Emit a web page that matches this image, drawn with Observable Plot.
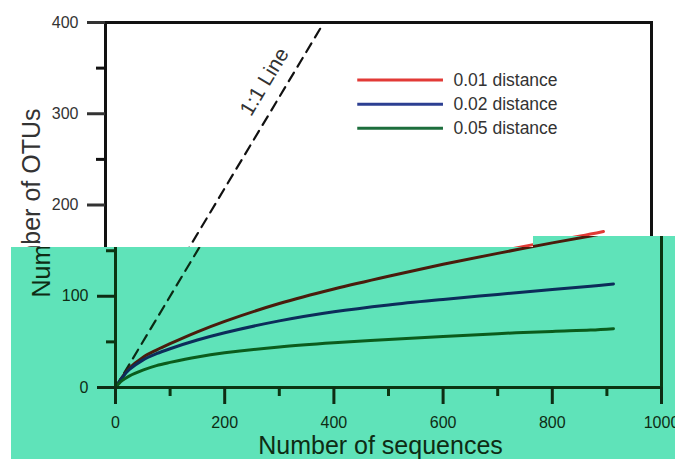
<!DOCTYPE html>
<html>
<head>
<meta charset="utf-8">
<script src="https://cdn.jsdelivr.net/npm/d3@7"></script>
<script src="https://cdn.jsdelivr.net/npm/@observablehq/plot@0.6"></script>
<style>
  html, body { margin: 0; padding: 0; background: #fff; }
  #wrap { position: relative; width: 675px; height: 459px; overflow: hidden; background: #fff; }
  #a, #b { position: absolute; left: 0; top: 0; width: 675px; height: 459px; }
  #b { background: #5fe3b9; clip-path: polygon(11px 247px, 533px 247px, 533px 236px, 675px 236px, 675px 459px, 11px 459px); }
</style>
</head>
<body>
<div id="wrap"><div id="a"></div><div id="b"></div></div>
<script>
// ---- data ----
const sequences = [0, 5, 12, 25, 50, 75, 100, 150, 200, 300, 400, 500, 600, 700, 800, 870, 912];
const otus001   = [0, 4.5, 11, 21, 33, 41, 48, 61, 72.5, 92, 108, 122, 135, 147, 158.5, 166, 171];
const otus002   = [0, 4.5, 10.5, 19.5, 30, 37, 42.5, 52, 60, 73, 83, 90.5, 96.5, 102, 107.5, 111, 113.5];
const otus005   = [0, 3.5, 7.5, 12.5, 19, 24, 27.5, 33.5, 38, 44.5, 49, 52.5, 56, 59, 61.5, 63, 64.5];
const seriesNames = ["0.01 distance", "0.02 distance", "0.05 distance"];
const oneToOne = [0, 400];
const xMajorTicks = [0, 200, 400, 600, 800, 1000];
const xMinorTicks = [100, 300, 500, 700, 900];
const yMajorTicks = [0, 100, 200, 300, 400];
const yMinorTicks = [50, 150, 250, 350];
const xTitle = "Number of sequences";
const yTitle = "Number of OTUs";
const lineLabel = "1:1 Line";

const seriesValues = [otus001, otus002, otus005];
const rows = seriesNames.flatMap((name, k) =>
  sequences.map((s, i) => ({series: name, seq: s, otus: seriesValues[k][i]})));
const diag = oneToOne.map(v => ({a: v, b: v}));

function makePlot(cfg) {
  const top = cfg.part === "top";
  const marks = [
    Plot.line(diag, {x: "a", y: "b", stroke: cfg.dash, strokeWidth: 2.2, strokeDasharray: "10,7"}),
    Plot.line(rows, {x: "seq", y: "otus", z: "series", stroke: "series", strokeWidth: 3, curve: "catmull-rom"}),
    Plot.frame({stroke: cfg.ink, strokeWidth: 3}),
    Plot.axisX(xMajorTicks, {tickSize: 17, tickPadding: 12, strokeWidth: 3, label: null, fontSize: 16, color: cfg.text,
      tickFormat: top ? () => "" : d => String(d)}),
    Plot.axisX(xMinorTicks, {tickSize: 9, strokeWidth: 3, label: null, tickFormat: () => ""}),
    Plot.axisY(yMajorTicks, {tickSize: 18, tickPadding: 9, strokeWidth: 3, label: null, fontSize: 16, color: cfg.text,
      tickFormat: d => (top ? d >= 200 : d < 200) ? String(d) : ""}),
    Plot.axisY(yMinorTicks, {tickSize: 9, strokeWidth: 3, label: null, tickFormat: () => ""}),
    Plot.text([yTitle], {frameAnchor: "left", dx: cfg.yTitleX - cfg.marginLeft, dy: -2, rotate: -90,
      textAnchor: "middle", lineAnchor: "middle", fontSize: 25, fill: cfg.text})
  ];
  if (top) {
    marks.push(
      Plot.text([lineLabel], {x: 335, y: 335, dx: -24, rotate: -59, fontSize: 21, fill: cfg.text}),
      Plot.ruleY(seriesNames, {y: (d, i) => 337 - i * 26.5, x1: 462, x2: 619, stroke: d => d, strokeWidth: 3}),
      Plot.text(seriesNames, {x: 619, y: (d, i) => 337 - i * 26.5, text: d => d, dx: 10, textAnchor: "start", fontSize: 17.5, fill: cfg.text})
    );
  } else {
    marks.push(
      Plot.text([xTitle], {frameAnchor: "bottom", dx: -8, dy: 58, textAnchor: "middle", lineAnchor: "middle", fontSize: 25, fill: cfg.text})
    );
  }
  return Plot.plot({
    width: 675,
    height: 459,
    marginLeft: cfg.marginLeft,
    marginRight: 675 - cfg.marginLeft - 546,
    marginTop: 22,
    marginBottom: 72,
    x: {domain: [0, 1000]},
    y: {domain: [0, 400]},
    color: {domain: seriesNames, range: cfg.series},
    style: {background: "transparent", fontFamily: "'Liberation Sans', Arial, sans-serif", fontSize: "16px", color: cfg.ink},
    marks
  });
}

document.getElementById("a").appendChild(makePlot({
  part: "top", marginLeft: 105, yTitleX: 31,
  ink: "#111", text: "#333", dash: "#111",
  series: ["#e23a36", "#2c3f92", "#1c6e3c"]
}));
document.getElementById("b").appendChild(makePlot({
  part: "bottom", marginLeft: 115, yTitleX: 41,
  ink: "#0b3512", text: "#0e2c14", dash: "#0b2a14",
  series: ["#4a1c0c", "#0c2c5a", "#0b5c1c"]
}));
</script>
</body>
</html>
